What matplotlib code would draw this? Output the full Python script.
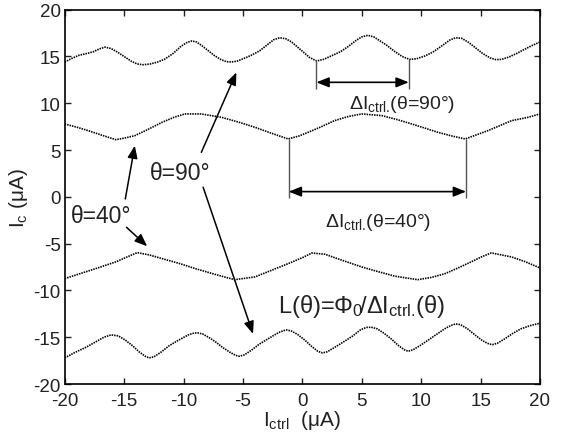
import matplotlib
matplotlib.use("Agg")
import matplotlib.pyplot as plt

plt.rcParams['font.family'] = ['Liberation Sans', 'DejaVu Sans']
plt.rcParams['mathtext.fontset'] = 'custom'
plt.rcParams['mathtext.rm'] = 'Liberation Sans'
plt.rcParams['mathtext.it'] = 'Liberation Sans:italic'
plt.rcParams['mathtext.bf'] = 'Liberation Sans:bold'
plt.rcParams['axes.unicode_minus'] = False

# theta = 90 deg, upper branch
top_x = [-20, -19.4, -18.8, -18.2, -17.6, -17.1, -16.6, -16.1, -15.6, -15.0,
         -14.4, -13.9, -13.4, -12.8, -12.2, -11.6, -10.9, -10.2, -9.7, -9.3,
         -8.9, -8.4, -7.9, -7.4, -6.9, -6.4, -6.0, -5.5, -4.9, -4.3,
         -3.6, -2.9, -2.4, -1.9, -1.4, -0.9, -0.4, 0.1, 0.6, 1.2,
         1.8, 2.5, 3.2, 3.9, 4.5, 5.0, 5.5, 6.0, 6.5, 7.1,
         7.7, 8.4, 9.0, 9.6, 10.3, 11.0, 11.7, 12.4, 12.9, 13.4,
         14.0, 14.6, 15.2, 15.8, 16.3, 16.8, 17.4, 18.0, 18.6, 19.3,
         20]
top_y = [14.4, 14.8, 15.13, 15.3, 15.5, 15.8, 16.0, 15.85, 15.5, 15.0,
         14.5, 14.2, 14.12, 14.2, 14.4, 14.7, 15.3, 16.1, 16.5, 16.66,
         16.55, 16.1, 15.6, 15.1, 14.7, 14.45, 14.41, 14.5, 14.8, 15.13,
         15.6, 16.3, 16.8, 17.0, 16.9, 16.55, 16.0, 15.45, 14.9, 14.52,
         14.7, 15.1, 15.5, 16.1, 16.7, 17.1, 17.26, 17.1, 16.7, 16.2,
         15.6, 15.0, 14.7, 14.75, 15.05, 15.48, 16.1, 16.75, 17.0, 16.95,
         16.5, 15.9, 15.3, 14.85, 14.66, 14.7, 14.95, 15.3, 15.7, 16.15,
         16.55]

# theta = 40 deg, upper branch
mid_x = [-20, -19, -18, -16.9, -15.7, -14.9, -14.1, -13, -11.8, -10.8,
         -9.9, -8.5, -6.8, -5.4, -4.0, -2.6, -1.2, -0.3, 0.5, 1.6,
         2.7, 3.9, 5.0, 6.7, 8.0, 9.2, 10.3, 11.4, 12.6, 13.7,
         14.6, 15.6, 16.6, 17.6, 19.0, 20]
mid_y = [7.79, 7.45, 7.07, 6.6, 6.11, 6.3, 6.54, 7.2, 7.97, 8.5,
         8.86, 8.86, 8.5, 8.0, 7.44, 6.8, 6.19, 6.5, 6.9, 7.5,
         8.14, 8.6, 8.86, 8.68, 8.25, 7.79, 7.35, 6.9, 6.5, 6.19,
         6.6, 7.07, 7.6, 8.14, 8.5, 8.86]

# theta = 40 deg, lower branch
low_x = [-20, -18.7, -17.4, -15.7, -14.8, -13.9, -12.9, -11.8, -10.4, -9.0,
         -7.3, -5.7, -4.0, -2.6, -1.2, 0.0, 0.8, 1.9, 3.4, 5.0,
         6.4, 7.8, 9.7, 10.9, 12.0, 13.1, 14.2, 15.1, 15.9, 17.6,
         18.7, 20]
low_y = [-8.74, -8.2, -7.67, -6.95, -6.45, -5.96, -6.2, -6.6, -7.1, -7.67,
         -8.3, -8.85, -8.56, -7.85, -7.14, -6.5, -6.0, -6.13, -6.8, -7.49,
         -8.0, -8.48, -8.85, -8.6, -8.21, -7.6, -6.95, -6.4, -5.99, -6.42,
         -6.9, -7.6]

# theta = 90 deg, lower branch
bot_x = [-20, -19.1, -18.2, -17.4, -16.7, -16.1, -15.5, -14.9, -14.3, -13.7,
         -13.2, -12.9, -12.5, -11.9, -11.2, -10.4, -9.6, -9.1, -8.8, -8.4,
         -7.9, -7.3, -6.7, -6.1, -5.6, -5.3, -4.9, -4.3, -3.6, -2.8,
         -2.0, -1.6, -1.3, -0.9, -0.4, 0.2, 0.8, 1.3, 1.7, 2.1,
         2.7, 3.4, 4.2, 4.9, 5.4, 5.8, 6.3, 6.9, 7.5, 8.1,
         8.6, 8.9, 9.3, 9.9, 10.6, 11.4, 12.1, 12.6, 12.9, 13.3,
         13.9, 14.6, 15.2, 15.7, 16.0, 16.4, 17.0, 17.7, 18.4, 19.2,
         20]
bot_y = [-17.21, -16.6, -16.07, -15.5, -15.0, -14.75, -14.85, -15.3, -15.9, -16.6,
         -17.05, -17.21, -17.1, -16.6, -15.9, -15.3, -14.75, -14.55, -14.54, -14.65,
         -15.0, -15.5, -16.1, -16.6, -16.95, -17.03, -16.9, -16.4, -15.72, -15.1,
         -14.5, -14.3, -14.22, -14.35, -14.7, -15.3, -16.0, -16.5, -16.68, -16.55,
         -16.1, -15.55, -14.9, -14.2, -13.95, -13.93, -14.1, -14.6, -15.2, -15.9,
         -16.35, -16.5, -16.35, -15.9, -15.3, -14.6, -14.0, -13.7, -13.58, -13.65,
         -14.1, -14.83, -15.4, -15.72, -15.79, -15.65, -15.2, -14.6, -14.1, -13.75,
         -13.5]

ticks = [-20, -15, -10, -5, 0, 5, 10, 15, 20]

# period markers (x positions of the minima used for Delta I_ctrl)
per90 = [1.18, 8.96]
per40 = [-1.15, 13.78]

fig = plt.figure(figsize=(5.68, 4.35), dpi=100)
ax = fig.add_axes([0.1139, 0.1149, 0.8368, 0.8605])

for xs, ys in [(top_x, top_y), (mid_x, mid_y), (low_x, low_y), (bot_x, bot_y)]:
    ax.plot(xs, ys, color='black', lw=1.2, linestyle=(0, (0.9, 0.6)))

ax.set_xlim(-20, 20)
ax.set_ylim(-20, 20)
ax.set_xticks(ticks)
ax.set_yticks(ticks)
ax.tick_params(direction='in', length=4, width=1, labelsize=13.5,
               top=True, right=True, colors='#222222')
ax.tick_params(axis='x', pad=5.5)
ax.tick_params(axis='y', pad=3)
for s in ax.spines.values():
    s.set_linewidth(1.2)

ax.set_xlabel('I$_{\\mathrm{ctrl}}$  (μA)', fontsize=15, labelpad=-0.5, color='#222222')
ax.set_ylabel('I$_{\\mathrm{c}}$ (μA)', fontsize=15, labelpad=2, color='#222222')

# dimension markers
head = '-|>,head_length=0.75,head_width=0.3'
dbl = '<|-|>,head_length=0.75,head_width=0.3'
ax.vlines(per90, [14.52, 14.7], 11.5, color='#555555', lw=1.0)
ax.annotate('', xy=(per90[1], 12.24), xytext=(per90[0], 12.24),
            arrowprops=dict(arrowstyle=dbl, color='black', lw=1.2,
                            shrinkA=0, shrinkB=0))
ax.text(8.4, 10.0, 'ΔI$_{\\mathrm{ctrl.}}\\!$(θ=90°)',
        fontsize=14, ha='center', va='center', color='#222222')

ax.vlines(per40, [6.19, 6.19], -0.11, color='#555555', lw=1.0)
ax.annotate('', xy=(per40[1], 0.56), xytext=(per40[0], 0.56),
            arrowprops=dict(arrowstyle=dbl, color='black', lw=1.2,
                            shrinkA=0, shrinkB=0))
ax.text(6.35, -2.6, 'ΔI$_{\\mathrm{ctrl.}}\\!$(θ=40°)',
        fontsize=14, ha='center', va='center', color='#222222')

# theta labels with arrows
ax.text(-10.3, 2.6, 'θ=90°', fontsize=16.5,
        ha='center', va='center', color='#222222')
ax.annotate('', xy=(-5.55, 13.3), xytext=(-8.5, 4.76),
            arrowprops=dict(arrowstyle=head, color='black', lw=1.1,
                            shrinkA=0, shrinkB=0))
ax.annotate('', xy=(-4.15, -14.65), xytext=(-8.35, 1.03),
            arrowprops=dict(arrowstyle=head, color='black', lw=1.1,
                            shrinkA=0, shrinkB=0))

ax.text(-16.9, -2.0, 'θ=40°', fontsize=16.5,
        ha='center', va='center', color='#222222')
ax.annotate('', xy=(-14.1, 5.47), xytext=(-14.9, -0.22),
            arrowprops=dict(arrowstyle=head, color='black', lw=1.1,
                            shrinkA=0, shrinkB=0))
ax.annotate('', xy=(-13.06, -5.28), xytext=(-14.8, -3.25),
            arrowprops=dict(arrowstyle=head, color='black', lw=1.1,
                            shrinkA=0, shrinkB=0))

ax.text(5.0, -11.6, 'L(θ)=Φ$_{0}\\!$/ΔI$_{\\mathrm{ctrl.}}\\!$(θ)', fontsize=17,
        ha='center', va='center', color='#222222')

fig.savefig('out.png', dpi=100)
